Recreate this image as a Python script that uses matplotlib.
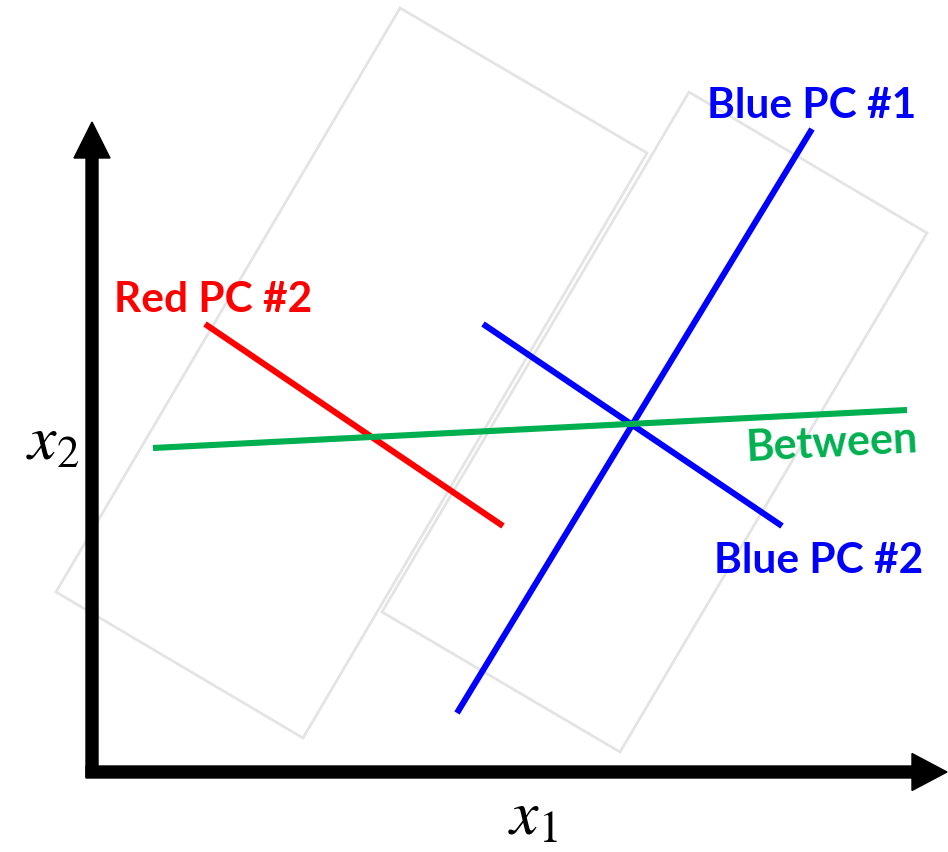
import matplotlib.pyplot as plt
from matplotlib.patches import Polygon

# canvas units are pixels, y grows downward
W, H = 948, 853

# the two point clouds, drawn as rotated boxes (corner lists)
red_box_x = [400, 647, 303, 56]
red_box_y = [9, 154, 739, 593]
blue_box_x = [689, 927, 620, 382]
blue_box_y = [93, 234, 753, 613]

# principal component segments
red_pc2_x = [205, 503]
red_pc2_y = [325, 527]
blue_pc1_x = [457, 812]
blue_pc1_y = [714, 130]
blue_pc2_x = [483, 782]
blue_pc2_y = [325, 527]
between_x = [153, 907]
between_y = [449, 411]

RED = '#ff0000'
BLUE = '#0000ff'
GREEN = '#00b050'
GRAY = '#e4e4e4'

plt.rcParams['font.family'] = ['Lato', 'DejaVu Sans']
plt.rcParams['mathtext.fontset'] = 'stix'

fig = plt.figure(figsize=(W / 100, H / 100), dpi=100)
ax = fig.add_axes([0, 0, 1, 1])
ax.set_xlim(0, W)
ax.set_ylim(H, 0)
ax.axis('off')

for bx, by in [(red_box_x, red_box_y), (blue_box_x, blue_box_y)]:
    ax.add_patch(Polygon(list(zip(bx, by)), closed=True, fill=False,
                         edgecolor=GRAY, linewidth=2.0, zorder=1))

# axes arrows
ax.arrow(92, 778, 0, 123 - 778, width=12, head_width=36, head_length=36,
         length_includes_head=True, color='black', zorder=5)
ax.arrow(86, 773, 947 - 86, 0, width=12, head_width=37, head_length=35,
         length_includes_head=True, color='black', zorder=5)

lw = 4.4
ax.plot(red_pc2_x, red_pc2_y, color=RED, lw=lw, solid_capstyle='butt', zorder=3)
ax.plot(blue_pc2_x, blue_pc2_y, color=BLUE, lw=lw, solid_capstyle='butt', zorder=3)
ax.plot(blue_pc1_x, blue_pc1_y, color=BLUE, lw=lw, solid_capstyle='butt', zorder=3)
ax.plot(between_x, between_y, color=GREEN, lw=lw, solid_capstyle='butt', zorder=4)

fs = 30.5
ax.text(707, 118, 'Blue PC #1', color=BLUE, fontsize=fs, fontweight='bold',
        ha='left', va='baseline')
ax.text(114, 312, 'Red PC #2', color=RED, fontsize=fs, fontweight='bold',
        ha='left', va='baseline')
ax.text(714, 573, 'Blue PC #2', color=BLUE, fontsize=fs, fontweight='bold',
        ha='left', va='baseline')
ax.text(747, 461, 'Between', color=GREEN, fontsize=31, fontweight='bold',
        ha='left', va='baseline', rotation=3, rotation_mode='anchor')

ax.text(26, 460, r'$x_2$', fontsize=46, ha='left', va='baseline')
ax.text(508, 835, r'$x_1$', fontsize=46, ha='left', va='baseline')

fig.savefig('out.png', dpi=100)
